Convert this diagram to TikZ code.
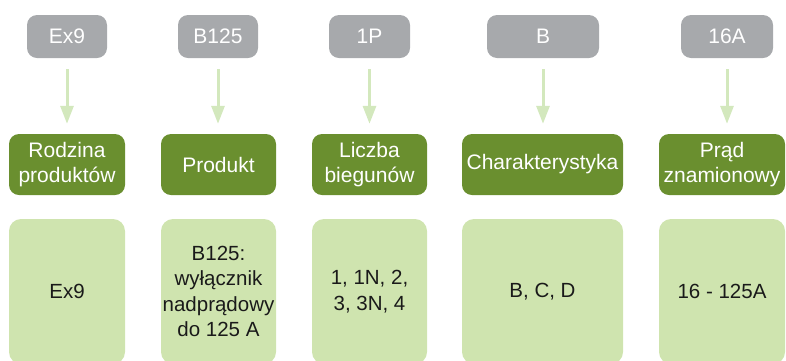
\documentclass[tikz,border=0pt]{standalone}
\usepackage{fontspec}
\setmainfont{Liberation Sans}
\usetikzlibrary{arrows.meta}
\definecolor{grayhead}{HTML}{A7A9AC}
\definecolor{darkgr}{HTML}{6A8F2F}
\definecolor{lightgr}{HTML}{CFE4AF}
\definecolor{arrowgr}{HTML}{D3E8BD}
\definecolor{txtdark}{HTML}{1A1A1A}
\tikzset{
  codebox/.style={fill=grayhead, rounded corners=10pt, inner sep=0pt,
    minimum height=43pt, text=white, font=\fontsize{21}{24}\selectfont},
  catbox/.style={fill=darkgr, rounded corners=10pt, inner sep=0pt,
    minimum height=61pt, text=white, align=center,
    font=\fontsize{21}{24.5}\selectfont},
  valbox/.style={fill=lightgr, rounded corners=12pt, inner sep=0pt,
    minimum height=145pt, text=txtdark, align=center,
    font=\fontsize{20.5}{25.5}\selectfont},
  flowarrow/.style={draw=arrowgr, line width=3pt,
    -{Triangle[width=13pt,length=18pt]}, shorten <=11pt, shorten >=10pt}
}
\begin{document}
\begin{tikzpicture}[x=1pt,y=-1pt]
\useasboundingbox (0,0) rectangle (786,360);
% code boxes
\node[codebox, minimum width=80pt]  (g1) at (67,36.5)  {Ex9};
\node[codebox, minimum width=80pt]  (g2) at (218,36.5) {B125};
\node[codebox, minimum width=81pt]  (g3) at (369.5,36.5) {1P};
\node[codebox, minimum width=112pt] (g4) at (543,36.5) {B};
\node[codebox, minimum width=92pt]  (g5) at (727,36.5) {16A};
% category boxes
\node[catbox, minimum width=116pt] (r1) at (67,164.5)   {Rodzina\\produktów};
\node[catbox, minimum width=115pt] (r2) at (218.5,164.5) {Produkt};
\node[catbox, minimum width=115pt] (r3) at (369.5,164.5) {Liczba\\biegunów};
\node[catbox, minimum width=161pt] (r4) at (542.5,164.5) {Charakterystyka};
\node[catbox, minimum width=126pt] (r5) at (722,164.5)   {Prąd\\znamionowy};
% value boxes
\node[valbox, minimum width=116pt] (v1) at (67,291.5)    {Ex9};
\node[valbox, minimum width=115pt] (v2) at (218.5,291.5) {B125:\\wyłącznik\\nadprądowy\\do 125 A};
\node[valbox, minimum width=115pt] (v3) at (369.5,291.5) {1, 1N, 2,\\3, 3N, 4};
\node[valbox, minimum width=161pt] (v4) at (542.5,291.5) {B, C, D};
\node[valbox, minimum width=126pt] (v5) at (722,291.5)   {16 - 125A};
% arrows
\draw[flowarrow] (g1.south) -- (g1.south |- r1.north);
\draw[flowarrow] (g2.south) -- (g2.south |- r2.north);
\draw[flowarrow] (g3.south) -- (g3.south |- r3.north);
\draw[flowarrow] (g4.south) -- (g4.south |- r4.north);
\draw[flowarrow] (g5.south) -- (g5.south |- r5.north);
\end{tikzpicture}
\end{document}
